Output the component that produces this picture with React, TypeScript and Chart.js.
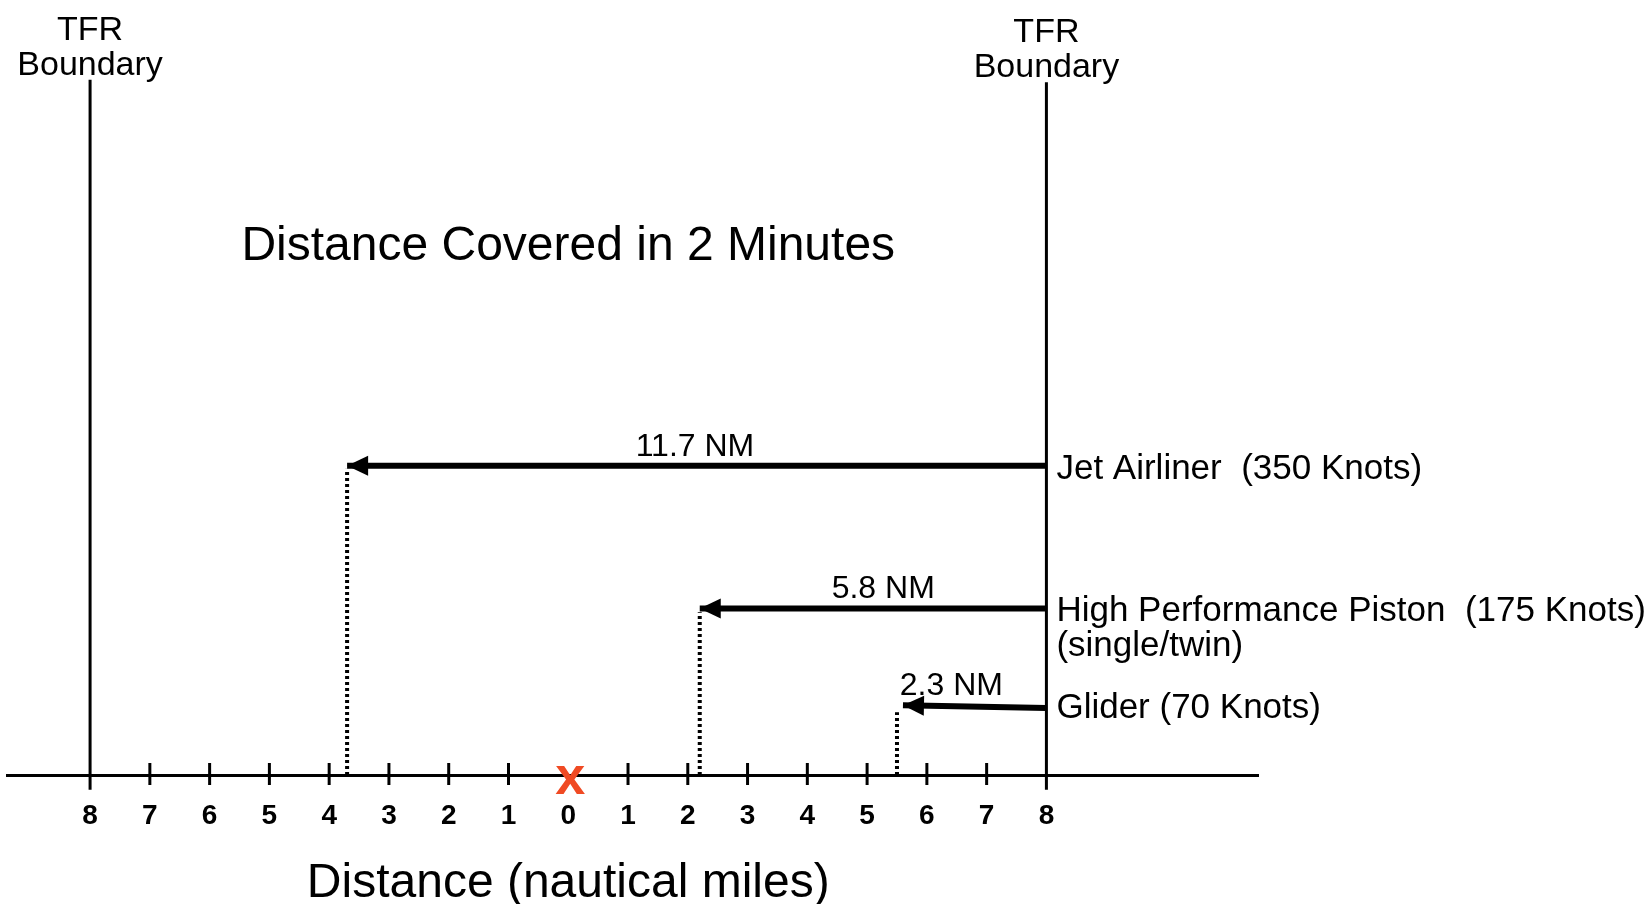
import React, { useEffect, useRef } from "react";
import { Chart, registerables } from "chart.js";

Chart.register(...registerables);

// ---- data ----
const tickValues = [-8, -7, -6, -5, -4, -3, -2, -1, 0, 1, 2, 3, 4, 5, 6, 7, 8];
const xMin = -9.39;
const xMax = 11.54;
const boundaryX = [-8, 8];
const boundaryTop = [8.97, 8.94];
const boundaryBottom = -0.19;
const boundaryLabel = ["TFR", "Boundary"];
const aircraftNames = ["Jet Airliner  (350 Knots)", "High Performance Piston  (175 Knots)", "Glider (70 Knots)"];
const aircraftSub = ["", "(single/twin)", ""];
const distanceLabels = ["11.7 NM", "5.8 NM", "2.3 NM"];
const distanceLabelX = [2.12, 5.27, 6.41];
const arrowStartX = [8, 8, 8];
const arrowEndX = [-3.7, 2.2, 5.6];
const laneStartY = [3.99, 2.15, 0.865];
const laneEndY = [3.99, 2.15, 0.9];
const dropX = [-3.7, 2.2, 5.5];
const dropTopY = [3.95, 2.1, 0.81];
const chartTitle = "Distance Covered in 2 Minutes";
const axisTitle = "Distance (nautical miles)";
const originMark = "x";

const FONT = "'Liberation Sans', Arial, Helvetica, sans-serif";

export default function App() {
  const ref = useRef<HTMLCanvasElement | null>(null);

  useEffect(() => {
    const canvas = ref.current;
    if (!canvas) return;

    const datasets: any[] = [];
    boundaryX.forEach((bx, i) => {
      datasets.push({
        data: [{ x: bx, y: boundaryBottom }, { x: bx, y: boundaryTop[i] }],
        borderColor: "#000",
        borderWidth: 3,
        pointRadius: 0,
        showLine: true,
        clip: false,
        tag: "boundary",
      });
    });
    arrowEndX.forEach((ex, i) => {
      datasets.push({
        data: [{ x: arrowStartX[i], y: laneStartY[i] }, { x: ex, y: laneEndY[i] }],
        borderColor: "#000",
        borderWidth: 6,
        pointRadius: 0,
        showLine: true,
        clip: false,
        tag: "arrow",
      });
    });
    dropX.forEach((dx, i) => {
      datasets.push({
        data: [{ x: dx, y: 0 }, { x: dx, y: dropTopY[i] }],
        borderColor: "#000",
        borderWidth: 4,
        borderDash: [3, 3],
        pointRadius: 0,
        showLine: true,
        clip: false,
        tag: "drop",
      });
    });

    const drawPlugin = {
      id: "decor",
      afterDatasetsDraw(chart: any) {
        const ctx = chart.ctx;
        chart.data.datasets.forEach((ds: any, di: number) => {
          if (ds.tag !== "arrow") return;
          const meta = chart.getDatasetMeta(di);
          const p0 = meta.data[0];
          const p1 = meta.data[1];
          const ang = Math.atan2(p1.y - p0.y, p1.x - p0.x);
          const len = 21;
          const hw = 10;
          ctx.save();
          ctx.fillStyle = "#000";
          ctx.beginPath();
          ctx.moveTo(p1.x, p1.y);
          ctx.lineTo(p1.x - len * Math.cos(ang) + hw * Math.sin(ang), p1.y - len * Math.sin(ang) - hw * Math.cos(ang));
          ctx.lineTo(p1.x - len * Math.cos(ang) - hw * Math.sin(ang), p1.y - len * Math.sin(ang) + hw * Math.cos(ang));
          ctx.closePath();
          ctx.fill();
          ctx.restore();
        });
      },
      afterDraw(chart: any) {
        const ctx = chart.ctx;
        const xs = chart.scales.x;
        const ys = chart.scales.y;
        const axisY = chart.chartArea.bottom;
        ctx.save();
        ctx.fillStyle = "#000";
        ctx.strokeStyle = "#000";

        // tick marks
        ctx.lineWidth = 3;
        xs.ticks.forEach((t: any) => {
          if (t.value === 0 || Math.abs(t.value) === 8) return;
          const px = xs.getPixelForValue(t.value);
          ctx.beginPath();
          ctx.moveTo(px, axisY - 12);
          ctx.lineTo(px, axisY + 10);
          ctx.stroke();
        });

        // origin mark
        ctx.fillStyle = "#f04a23";
        ctx.font = `bold 54px ${FONT}`;
        ctx.textAlign = "center";
        ctx.textBaseline = "alphabetic";
        ctx.fillText(originMark, xs.getPixelForValue(0) + 2, axisY + 19);

        ctx.fillStyle = "#000";
        // TFR labels
        ctx.font = `34px ${FONT}`;
        boundaryX.forEach((bx, i) => {
          const px = xs.getPixelForValue(bx);
          const top = ys.getPixelForValue(boundaryTop[i]);
          ctx.fillText(boundaryLabel[0], px, top - 40);
          ctx.fillText(boundaryLabel[1], px, top - 5);
        });

        // title
        ctx.font = `48px ${FONT}`;
        ctx.fillText(chartTitle, xs.getPixelForValue(0), 260);

        // axis title
        ctx.fillText(axisTitle, xs.getPixelForValue(0), 897);

        // distance labels
        ctx.font = `32px ${FONT}`;
        distanceLabels.forEach((lab, i) => {
          const py = ys.getPixelForValue(laneEndY[i]);
          ctx.fillText(lab, xs.getPixelForValue(distanceLabelX[i]), py - 10);
        });

        // aircraft labels
        ctx.font = `35px ${FONT}`;
        ctx.textAlign = "left";
        aircraftNames.forEach((name, i) => {
          const px = xs.getPixelForValue(arrowStartX[i]) + 10;
          const py = ys.getPixelForValue(laneEndY[i]) + 13;
          ctx.fillText(name, px, py);
          if (aircraftSub[i]) ctx.fillText(aircraftSub[i], px, py + 35);
        });
        ctx.restore();
      },
    };

    const chart = new Chart(canvas, {
      type: "scatter",
      data: { datasets },
      options: {
        animation: false,
        responsive: false,
        devicePixelRatio: 1,
        layout: { padding: { left: 7, right: 388, top: 0, bottom: 0 } },
        plugins: { legend: { display: false }, tooltip: { enabled: false }, title: { display: false } },
        events: [],
        scales: {
          x: {
            type: "linear",
            min: xMin,
            max: xMax,
            position: "bottom",
            afterBuildTicks: (s: any) => {
              s.ticks = tickValues.map((v) => ({ value: v }));
            },
            afterFit: (s: any) => {
              s.height = 129;
            },
            ticks: {
              callback: (v: any) => String(Math.abs(Number(v))),
              font: { family: FONT, size: 28, weight: "bold" },
              color: "#000",
              padding: 24,
              maxRotation: 0,
              autoSkip: false,
            },
            grid: { display: false, drawTicks: false },
            border: { display: true, color: "#000", width: 3 },
            title: { display: false },
          },
          y: { type: "linear", min: 0, max: 10, display: false },
        },
      } as any,
      plugins: [drawPlugin],
    });

    return () => chart.destroy();
  }, []);

  return (
    <div style={{ position: "absolute", left: 0, top: 0, width: 1646, height: 904, background: "#fff" }}>
      <canvas ref={ref} width={1646} height={904} style={{ display: "block" }} />
    </div>
  );
}
